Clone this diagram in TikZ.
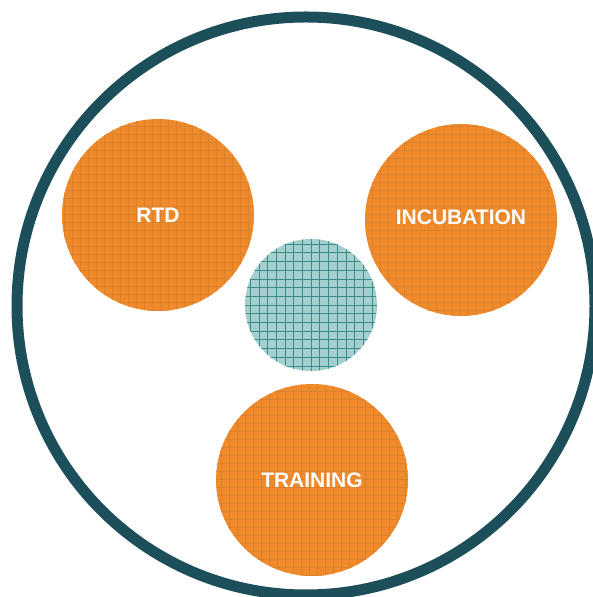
\documentclass[tikz,border=0pt]{standalone}
\usepackage{fontspec}
\setmainfont{Liberation Sans}
\definecolor{ring}{HTML}{1C4F5A}
\definecolor{orng}{HTML}{F08A2A}
\definecolor{orngline}{HTML}{D9822E}
\definecolor{tealfill}{HTML}{A3D0CE}
\definecolor{tealline}{HTML}{3C8C8A}
\tikzset{
  phase/.style={circle, fill=orng, minimum size=192pt, inner sep=0pt,
    text=white, font=\bfseries\fontsize{21}{25}\selectfont,
    path picture={\draw[orngline, line width=0.5pt, step=8pt]
      (path picture bounding box.south west) grid (path picture bounding box.north east);}},
  hub/.style={circle, fill=tealfill, minimum size=132pt, inner sep=0pt,
    path picture={\draw[tealline, line width=0.6pt, step=8.7pt]
      (path picture bounding box.south west) grid (path picture bounding box.north east);}}
}
\begin{document}
\begin{tikzpicture}[x=1pt,y=1pt]
\useasboundingbox (0,0) rectangle (592,597);
\node[draw=ring, line width=11pt, circle, minimum size=578pt, inner sep=0pt] (ring) at (306,291) {};

\node[phase] (rtd) at (158,382) {RTD};
\node[phase] (incubation) at (461,377) {\raisebox{5pt}{INCUBATION}};
\node[phase] (training) at (312,117) {TRAINING};
\node[hub] (core) at (311,292) {};
\end{tikzpicture}
\end{document}
